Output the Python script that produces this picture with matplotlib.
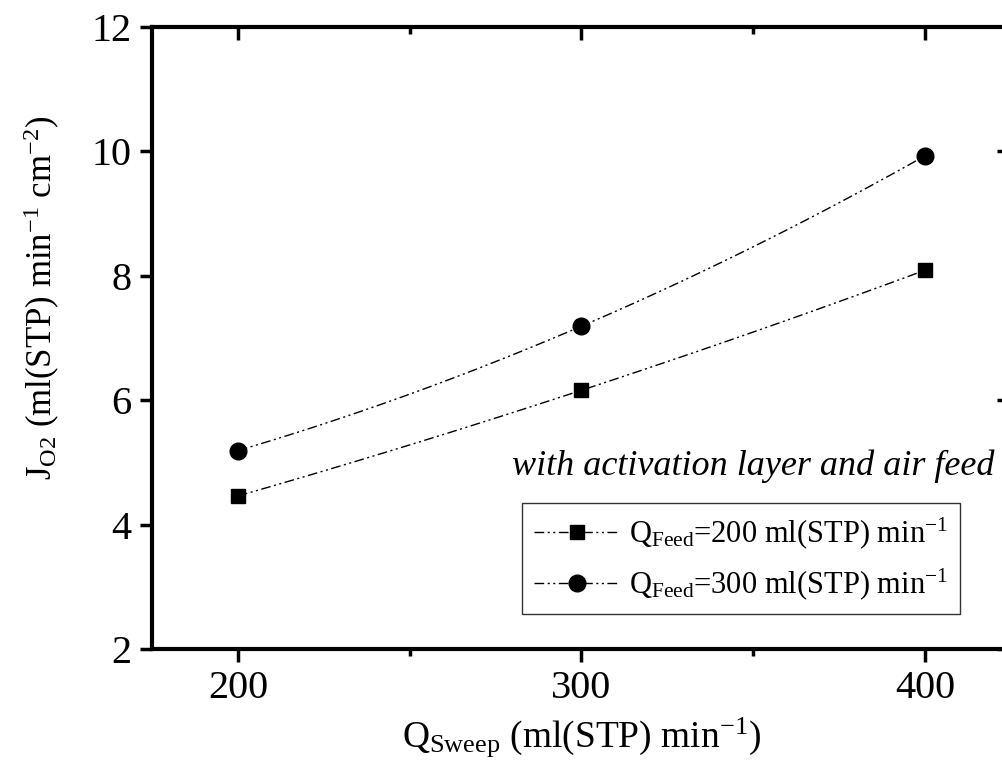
import numpy as np
import matplotlib
matplotlib.use('agg')
import matplotlib.pyplot as plt

# data
q_sweep = [200, 300, 400]
flux_feed200 = [4.46, 6.16, 8.09]
flux_feed300 = [5.19, 7.19, 9.93]
series_labels = [r'Q$_{\mathrm{Feed}}$=200 ml(STP) min$^{-1}$',
                 r'Q$_{\mathrm{Feed}}$=300 ml(STP) min$^{-1}$']
note = 'with activation layer and air feed'

plt.rcParams['font.family'] = 'Liberation Serif'
plt.rcParams['mathtext.fontset'] = 'custom'
plt.rcParams['mathtext.rm'] = 'Liberation Serif'
plt.rcParams['mathtext.it'] = 'Liberation Serif:italic'

fig = plt.figure(figsize=(10.03, 7.76), dpi=100)
ax = fig.add_axes([152/1003, 1 - 649/776, (1011 - 152)/1003, (649 - 27)/776])

dashdotdot = (0, (7, 2.5, 1.5, 2.5, 1.5, 2.5))
xs = np.array(q_sweep, dtype=float)
xfine = np.linspace(xs.min(), xs.max(), 100)
for ys, mk, ms, lab in [(flux_feed200, 's', 10, series_labels[0]),
                        (flux_feed300, 'o', 12, series_labels[1])]:
    coef = np.polyfit(xs, ys, 2)
    ax.plot(xfine, np.polyval(coef, xfine), color='black', lw=1.0, ls=dashdotdot)
    ax.plot(xs, ys, ls='none', marker=mk, ms=ms, color='black')
    ax.plot([], [], color='black', lw=1.0, ls=dashdotdot, marker=mk, ms=ms, label=lab)

ax.set_xlim(175, 425)
ax.set_ylim(2, 12)
ax.set_xticks([200, 300, 400])
ax.set_xticks([250, 350], minor=True)
ax.set_yticks([2, 4, 6, 8, 10, 12])
ax.tick_params(axis='both', which='major', labelsize=29, width=2.5, length=9, direction='out', pad=6)
ax.tick_params(axis='x', which='minor', width=2.5, length=5, direction='out')
ax.tick_params(axis='y', which='minor', left=False)
for sp in ax.spines.values():
    sp.set_linewidth(3)

# top and right axes with inward ticks
top = ax.secondary_xaxis('top')
top.set_xticks([200, 300, 400])
top.set_xticks([250, 350], minor=True)
top.tick_params(which='major', direction='in', length=9, width=2.5, labeltop=False)
top.tick_params(which='minor', direction='in', length=5, width=2.5)
right = ax.secondary_yaxis('right')
right.set_yticks([2, 6, 10])
right.tick_params(direction='in', length=10, width=2.5, labelright=False)

ax.set_xlabel(r'Q$_{\mathrm{Sweep}}$ (ml(STP) min$^{-1}$)', fontsize=27, labelpad=6)
ax.set_ylabel(r'J$_{\mathrm{O2}}$ (ml(STP) min$^{-1}$ cm$^{-2}$)', fontsize=25)
ax.yaxis.set_label_coords(-0.105, 0.565)

ax.text(995, 776 - 466, note, transform=None, fontsize=26, style='italic',
        ha='right', va='center')

leg = ax.legend(loc='upper left', bbox_to_anchor=((522 - 152)/(1011 - 152), (649 - 503)/(649 - 27)),
                borderaxespad=0, fontsize=22, frameon=True, fancybox=False, edgecolor='black',
                handlelength=2.8, borderpad=0.4, labelspacing=0.5, handletextpad=0.3)
leg.get_frame().set_linewidth(1.0)

fig.savefig('out.png', dpi=100)
